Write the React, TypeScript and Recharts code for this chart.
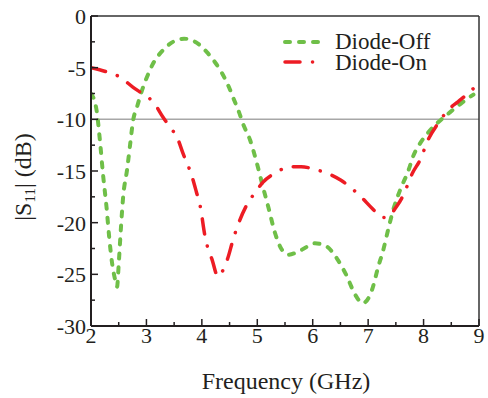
import React from "react";
import {
  LineChart,
  Line,
  XAxis,
  YAxis,
  ReferenceLine,
  Legend,
} from "recharts";

// Diode-Off (green, dashed)
const offFreq = [
  2.0, 2.1, 2.16, 2.22, 2.28, 2.33, 2.38, 2.43, 2.47, 2.5, 2.54, 2.58, 2.65,
  2.7, 2.76, 2.83, 2.92, 3.01, 3.12, 3.3, 3.48, 3.68, 3.91, 4.09, 4.24, 4.36,
  4.49, 4.58, 4.67, 4.74, 4.87, 5.0, 5.1, 5.2, 5.32, 5.42, 5.56, 5.81, 6.04,
  6.25, 6.44, 6.6, 6.77, 6.9, 7.07, 7.18, 7.27, 7.36, 7.45, 7.58, 7.73, 7.81,
  7.94, 8.08, 8.24, 8.48, 8.69, 8.9,
];
const offS11 = [
  -7.5, -9.1, -12, -15.5, -18.5, -21.5, -23.9, -25.4, -26.2, -24.0, -20.5,
  -17.5, -14.9, -12.7, -10.1, -8.8, -7.2, -5.9, -4.6, -3.3, -2.5, -2.2, -2.6,
  -3.5, -4.5, -5.5, -6.9, -8.1, -9.3, -10.4, -12.0, -14.4, -16.5, -18.5, -21.0,
  -22.4, -23.1, -22.6, -22.0, -22.3, -23.5, -25.0, -27.0, -27.8, -26.5, -24.3,
  -22.7, -20.7, -18.8, -16.8, -14.9, -13.6, -12.3, -11.3, -10.4, -9.3, -8.4,
  -7.6,
];

// Diode-On (red, dash-dot)
const onFreq = [
  2.0, 2.28, 2.52, 2.76, 2.95, 3.12, 3.3, 3.43, 3.55, 3.66, 3.82, 3.9, 3.97,
  4.06, 4.11, 4.18, 4.29, 4.36, 4.47, 4.56, 4.66, 4.83, 4.96, 5.1, 5.36, 5.56,
  5.79, 6.08, 6.25, 6.51, 6.73, 6.89, 7.07, 7.27, 7.4, 7.49, 7.6, 7.7, 7.8,
  7.94, 8.08, 8.26, 8.48, 8.62, 8.8, 9.0,
];
const onS11 = [
  -5.0, -5.4, -5.9, -6.9, -7.6, -8.3, -9.8, -10.8, -11.7, -13.3, -15.5, -17.0,
  -18.4, -21.4, -22.5, -23.5, -25.2, -24.8, -23.4, -21.7, -20.1, -18.1, -17.1,
  -16.1, -15.1, -14.6, -14.6, -14.9, -15.2, -15.9, -16.8, -17.6, -18.6, -19.5,
  -19.3, -18.6, -17.7, -16.5, -15.2, -13.9, -12.0, -10.4, -8.9, -8.3, -7.5,
  -6.5,
];

const xTicks = [2, 2.5, 3, 3.5, 4, 4.5, 5, 5.5, 6, 6.5, 7, 7.5, 8, 8.5, 9];
const yTicks = [
  0, -2.5, -5, -7.5, -10, -12.5, -15, -17.5, -20, -22.5, -25, -27.5, -30,
];

const offData = offFreq.map((f, i) => ({ f, s: offS11[i] }));
const onData = onFreq.map((f, i) => ({ f, s: onS11[i] }));

const FONT = "'Liberation Serif', 'Times New Roman', serif";
const INK = "#231f20";
const GREEN = "#6fbf48";
const RED = "#ed1c24";

function XTick(props: any) {
  const { x, y, payload } = props;
  const v = payload.value;
  const major = Number.isInteger(v);
  return (
    <g>
      <line x1={x} x2={x} y1={y} y2={y - (major ? 7 : 4)} stroke={INK} strokeWidth={1.5} />
      {major && (
        <text x={x} y={y + 17} textAnchor="middle" fontFamily={FONT} fontSize={22} fill={INK}>
          {v}
        </text>
      )}
    </g>
  );
}

function YTick(props: any) {
  const { x, y, payload } = props;
  const v = payload.value;
  const major = v % 5 === 0;
  return (
    <g>
      <line x1={x} x2={x + (major ? 7 : 4)} y1={y} y2={y} stroke={INK} strokeWidth={1.5} />
      {major && (
        <text x={x - 5} y={y + 8} textAnchor="end" fontFamily={FONT} fontSize={22} fill={INK}>
          {String(v)}
        </text>
      )}
    </g>
  );
}

function YLabel() {
  return (
    <text
      transform="rotate(-90)"
      x={-177}
      y={31}
      textAnchor="middle"
      fontFamily={FONT}
      fontSize={24}
      fill={INK}
    >
      |S
      <tspan fontSize={15} dy={4}>
        11
      </tspan>
      <tspan dy={-4}>| (dB)</tspan>
    </text>
  );
}

function XLabel() {
  return (
    <text x={286} y={389} textAnchor="middle" fontFamily={FONT} fontSize={24} fill={INK}>
      Frequency (GHz)
    </text>
  );
}

function LegendBox() {
  return (
    <svg width={200} height={50}>
      <line x1={5} x2={40} y1={14} y2={14} stroke={GREEN} strokeWidth={4} strokeDasharray="5 9" strokeLinecap="round" />
      <text x={55} y={21} fontFamily={FONT} fontSize={23} fill={INK}>
        Diode-Off
      </text>
      <line x1={5} x2={34} y1={34} y2={34} stroke={RED} strokeWidth={3.5} strokeDasharray="15 12.5 0.1 12.5" strokeLinecap="round" />
      <text x={55} y={42} fontFamily={FONT} fontSize={23} fill={INK}>
        Diode-On
      </text>
    </svg>
  );
}

export default function App() {
  return (
    <div style={{ position: "absolute", left: 0, top: 0 }}>
      <LineChart width={488} height={398} margin={{ top: 16, right: 9, left: 0, bottom: 0 }}>
        <XAxis
          dataKey="f"
          type="number"
          domain={[2, 9]}
          ticks={xTicks}
          interval={0}
          height={72}
          tickSize={0}
          tickMargin={0}
          tickLine={false}
          tick={<XTick />}
          axisLine={{ stroke: INK, strokeWidth: 2 }}
          label={<XLabel />}
          allowDataOverflow
        />
        <YAxis
          type="number"
          domain={[-30, 0]}
          ticks={yTicks}
          interval={0}
          width={91}
          tickSize={0}
          tickMargin={0}
          tickLine={false}
          tick={<YTick />}
          axisLine={{ stroke: INK, strokeWidth: 2 }}
          label={<YLabel />}
          allowDataOverflow
        />
        <ReferenceLine y={-10} stroke="#a7a7a7" strokeWidth={1.5} />
        <ReferenceLine y={0} stroke="#333" strokeWidth={1.5} />
        <ReferenceLine x={9} stroke="#333" strokeWidth={1.5} />
        <Legend
          layout="horizontal"
          verticalAlign="middle"
          align="center"
          wrapperStyle={{ left: 280, top: 28, width: 200 }}
          content={() => <LegendBox />}
        />
        <Line
          data={offData}
          dataKey="s"
          type="monotone"
          stroke={GREEN}
          strokeWidth={4}
          strokeDasharray="5 9"
          strokeLinecap="round"
          dot={false}
          activeDot={false}
          isAnimationActive={false}
        />
        <Line
          data={onData}
          dataKey="s"
          type="monotone"
          stroke={RED}
          strokeWidth={3.5}
          strokeDasharray="15 12.5 0.1 12.5"
          strokeLinecap="round"
          dot={false}
          activeDot={false}
          isAnimationActive={false}
        />
      </LineChart>
    </div>
  );
}
